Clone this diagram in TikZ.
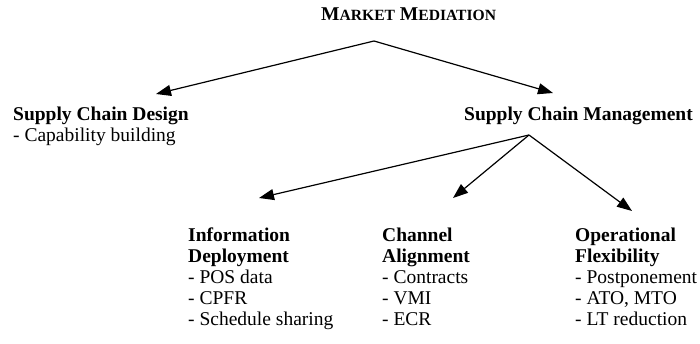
\documentclass[tikz,border=0pt]{standalone}
\usepackage{fontspec}
\setmainfont{Liberation Serif}
\usetikzlibrary{arrows.meta}
\newcommand{\smallcap}[1]{{\fontsize{15.6}{18}\selectfont #1}}
\begin{document}
\begin{tikzpicture}[x=1pt, y=-1pt,
            txt/.style={anchor=base west, inner sep=0pt, align=left, font=\fontsize{19.5}{20.8}\selectfont},
            arrow/.style={-{Triangle[length=15pt, width=11pt]}, line width=1.2pt}
        ]
            \useasboundingbox (0,0) rectangle (700,344);
            % base anchor sits on the last line
            \node[txt] (market) at (321,20.5) {\textbf{M\smallcap{ARKET} M\smallcap{EDIATION}}};
            \node[txt] (design) at (13,141.7) {\textbf{Supply Chain Design}\\- Capability building};
            \node[txt] (manage) at (464,120.5) {\textbf{Supply Chain Management}};
            \node[txt] (info) at (188,325) {\textbf{Information}\\\textbf{Deployment}\\- POS data\\- CPFR\\- Schedule sharing};
            \node[txt] (channel) at (382,325) {\textbf{Channel}\\\textbf{Alignment}\\- Contracts\\- VMI\\- ECR};
            \node[txt] (flex) at (575,325) {\textbf{Operational}\\\textbf{Flexibility}\\- Postponement\\- ATO, MTO\\- LT reduction};

            \coordinate (market-split) at (374,41);
            \coordinate (manage-split) at (529,135);
            \coordinate (design-in) at (156,94);
            \coordinate (manage-in) at (553,93);
            \coordinate (info-in) at (259,198);
            \coordinate (channel-in) at (453,198);
            \coordinate (flex-in) at (632,211);

            \draw[arrow] (market-split) -- (design-in);
            \draw[arrow] (market-split) -- (manage-in);
            \draw[arrow] (manage-split) -- (info-in);
            \draw[arrow] (manage-split) -- (channel-in);
            \draw[arrow] (manage-split) -- (flex-in);
        \end{tikzpicture}
\end{document}
